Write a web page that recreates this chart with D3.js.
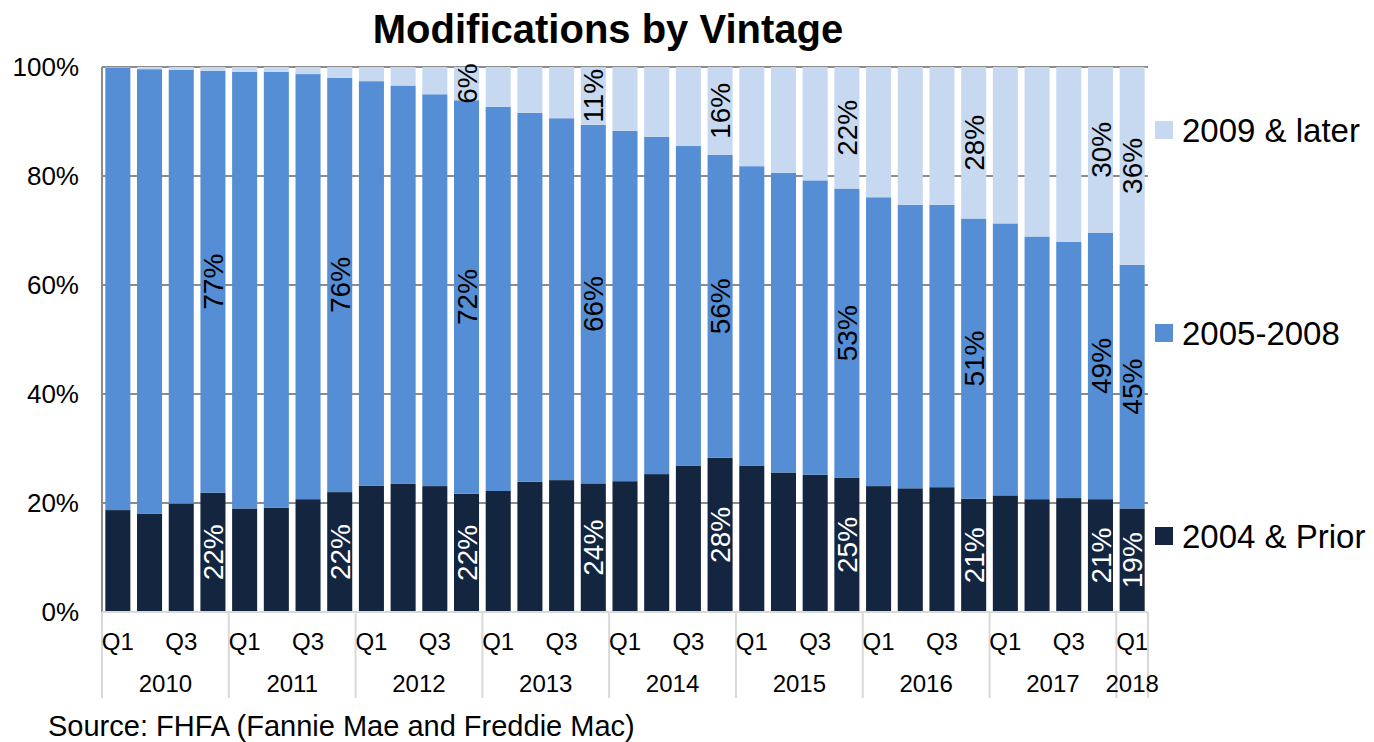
<!DOCTYPE html>
<html>
<head lang="en">
    <meta charset="UTF-8">
    <title>Modifications by Vintage</title>
    <script type="text/javascript" src="https://cdn.jsdelivr.net/npm/d3@7/dist/d3.min.js"></script>
    <style>
        body { margin: 0; background: #fff; }
        text { font-family: "Liberation Sans", Arial, sans-serif; }
    </style>
</head>
<body>
<div class="holder"></div>

<script>
    // quarters 2010 Q1 .. 2018 Q1
    var years = ["2010", "2011", "2012", "2013", "2014", "2015", "2016", "2017", "2018"];
    var quarters = [];
    years.forEach(function(y) {
        ["Q1", "Q2", "Q3", "Q4"].forEach(function(q) {
            if (y != "2018" || q == "Q1") quarters.push({year: y, q: q});
        });
    });
    var tickLabels = ["Q1", "Q3"];

    // shares in percent
    var prior = [18.7, 18.0, 19.9, 21.9, 19.0, 19.1, 20.7, 22.0, 23.2, 23.5, 23.1, 21.7,
                 22.2, 23.9, 24.2, 23.6, 24.0, 25.3, 26.8, 28.3, 26.8, 25.6, 25.2, 24.6,
                 23.1, 22.7, 22.9, 20.8, 21.4, 20.7, 20.9, 20.7, 19.0];
    var mid   = [81.2, 81.6, 79.6, 77.4, 80.1, 80.0, 78.0, 76.0, 74.2, 73.1, 71.9, 72.2,
                 70.5, 67.7, 66.4, 65.8, 64.3, 61.9, 58.7, 55.6, 55.0, 55.0, 54.0, 53.1,
                 53.0, 52.0, 51.8, 51.4, 49.9, 48.2, 47.0, 48.9, 44.7];
    var later = [0.1, 0.4, 0.5, 0.7, 0.9, 0.9, 1.3, 2.0, 2.6, 3.4, 5.0, 6.1,
                 7.3, 8.4, 9.4, 10.6, 11.7, 12.8, 14.5, 16.1, 18.2, 19.4, 20.8, 22.3,
                 23.9, 25.3, 25.3, 27.8, 28.7, 31.1, 32.1, 30.4, 36.3];
    var seriesNames = ["2004 & Prior", "2005-2008", "2009 & later"];
    var colors = ["#13253f", "#558ed5", "#c6d9f1"];
    var labelled = [3, 7, 11, 15, 19, 23, 27, 31, 32];

    var width = 1374, height = 742;
    var left = 102, right = 1148;
    var svg = d3.select(".holder").append("svg")
            .attr("width", width)
            .attr("height", height);

    var x = d3.scaleBand()
            .domain(d3.range(quarters.length))
            .range([left, right])
            .paddingInner(0.21)
            .paddingOuter(0.105);
    var y = d3.scaleLinear().domain([0, 100]).range([612, 67]);

    var table = quarters.map(function(d, i) {
        return {i: i, prior: prior[i], mid: mid[i], later: later[i]};
    });
    var stack = d3.stack().keys(["prior", "mid", "later"]);
    var layers = stack(table);

    // gridlines
    svg.selectAll("line.grid")
            .data([20, 40, 60, 80, 100])
            .enter()
            .append("line")
            .attr("x1", left).attr("x2", right)
            .attr("y1", function(d) {return y(d);})
            .attr("y2", function(d) {return y(d);})
            .attr("stroke", "#8c8c8c")
            .attr("stroke-width", 2);

    // bars
    svg.selectAll("g.layer")
            .data(layers)
            .enter()
            .append("g")
            .attr("fill", function(d, i) {return colors[i];})
            .selectAll("rect")
            .data(function(d) {return d;})
            .enter()
            .append("rect")
            .attr("x", function(d) {return x(d.data.i);})
            .attr("width", x.bandwidth())
            .attr("y", function(d) {return y(d[1]);})
            .attr("height", function(d) {return y(d[0]) - y(d[1]);});

    // axes lines
    svg.append("line")
            .attr("x1", left).attr("x2", left)
            .attr("y1", y(100)).attr("y2", y(0))
            .attr("stroke", "#8c8c8c").attr("stroke-width", 2);
    svg.append("line")
            .attr("x1", left).attr("x2", right)
            .attr("y1", y(0)).attr("y2", y(0))
            .attr("stroke", "#d9d9d9").attr("stroke-width", 2);

    var yAxis = svg.append("g")
            .attr("transform", "translate(" + left + ",0)")
            .call(d3.axisLeft(y)
                    .tickValues([0, 20, 40, 60, 80, 100])
                    .tickSize(0)
                    .tickPadding(23)
                    .tickFormat(function(d) {return d + "%";}));
    yAxis.select(".domain").remove();
    yAxis.selectAll("text")
            .style("font-size", "26px")
            .style("font-family", "'Liberation Sans', Arial, sans-serif")
            .attr("fill", "#000");

    // x axis: quarter labels, year labels, separators
    var step = x.step();
    var yearStarts = years.map(function(yr) {
        var idx = quarters.findIndex(function(q) {return q.year == yr;});
        var n = quarters.filter(function(q) {return q.year == yr;}).length;
        return {year: yr, x0: left + idx * step, x1: left + (idx + n) * step};
    });

    svg.selectAll("line.sep")
            .data(yearStarts.map(function(d) {return d.x0;}).concat([right]))
            .enter()
            .append("line")
            .attr("x1", function(d) {return d;})
            .attr("x2", function(d) {return d;})
            .attr("y1", y(0)).attr("y2", 698)
            .attr("stroke", "#d9d9d9").attr("stroke-width", 2);

    svg.selectAll("text.qlab")
            .data(quarters.filter(function(d) {return tickLabels.indexOf(d.q) >= 0;}))
            .enter()
            .append("text")
            .attr("x", function(d) {return x(quarters.indexOf(d)) + x.bandwidth() / 2;})
            .attr("y", 650)
            .attr("text-anchor", "middle")
            .style("font-size", "24px")
            .text(function(d) {return d.q;});

    svg.selectAll("text.ylab")
            .data(yearStarts)
            .enter()
            .append("text")
            .attr("x", function(d) {return (d.x0 + d.x1) / 2;})
            .attr("y", 692)
            .attr("text-anchor", "middle")
            .style("font-size", "24px")
            .text(function(d) {return d.year;});

    // data labels, rotated
    var fmt = function(v) {return Math.round(v) + "%";};
    layers.forEach(function(layer, k) {
        svg.selectAll(null)
                .data(layer.filter(function(d) {
                    return labelled.indexOf(d.data.i) >= 0 && (d[1] - d[0]) >= 5;
                }))
                .enter()
                .append("text")
                .attr("transform", function(d) {
                    var cx = x(d.data.i) + x.bandwidth() / 2;
                    var cy = y((d[0] + d[1]) / 2);
                    return "translate(" + cx + "," + cy + ") rotate(-90)";
                })
                .attr("text-anchor", "middle")
                .attr("dy", "0.36em")
                .attr("fill", k == 0 ? "#fff" : "#000")
                .style("font-size", "28px")
                .text(function(d) {return fmt(d[1] - d[0]);});
    });

    // legend
    var legendY = [536, 333, 130];
    var legend = svg.selectAll("g.legend")
            .data(seriesNames)
            .enter()
            .append("g")
            .attr("transform", function(d, i) {return "translate(1155," + legendY[i] + ")";});
    legend.append("rect")
            .attr("x", 0).attr("y", -9)
            .attr("width", 18).attr("height", 18)
            .attr("fill", function(d, i) {return colors[i];});
    legend.append("text")
            .attr("x", 27)
            .attr("dy", "0.36em")
            .style("font-size", "33px")
            .text(function(d) {return d;});

    // title and source
    svg.append("text")
            .attr("x", 608).attr("y", 43)
            .attr("text-anchor", "middle")
            .style("font-size", "40px")
            .style("font-weight", "bold")
            .text("Modifications by Vintage");
    svg.append("text")
            .attr("x", 48).attr("y", 736)
            .style("font-size", "29px")
            .text("Source: FHFA (Fannie Mae and Freddie Mac)");
</script>
</body>
</html>
